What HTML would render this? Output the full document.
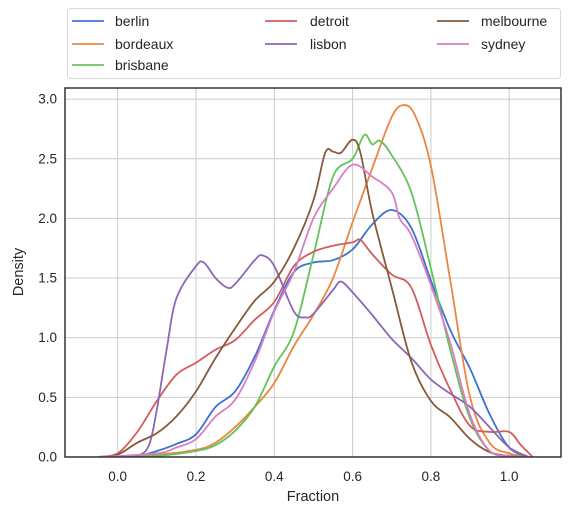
<!DOCTYPE html>
<html><head><meta charset="utf-8"><style>
body{margin:0;background:#fff;font-family:"Liberation Sans",sans-serif;}
</style></head><body>
<svg id="c" width="577" height="515" xmlns="http://www.w3.org/2000/svg" font-family="Liberation Sans, sans-serif"></svg>
<script>
const seriesNames=["berlin","bordeaux","brisbane","detroit","lisbon","melbourne","sydney"];
const seriesColors=["#3d72d0","#ee8540","#62c45a","#d45c5c","#8c67b6","#865a3a","#da7dc5"];
const berlinX=[-0.05,0.05,0.1,0.15,0.2,0.25,0.3,0.35,0.4,0.45,0.5,0.55,0.6,0.65,0.7,0.75,0.8,0.85,0.9,0.95,1.0,1.05];
const berlinY=[0,0.01,0.05,0.11,0.19,0.42,0.55,0.84,1.23,1.55,1.63,1.65,1.74,1.95,2.07,1.92,1.48,1.06,0.74,0.36,0.08,0];
const bordeauxX=[-0.05,0.1,0.2,0.25,0.3,0.35,0.4,0.45,0.5,0.55,0.6,0.65,0.7,0.73,0.76,0.8,0.85,0.9,0.95,1.0,1.05];
const bordeauxY=[0,0.02,0.06,0.12,0.25,0.42,0.62,0.93,1.19,1.5,1.97,2.42,2.85,2.95,2.86,2.44,1.47,0.5,0.12,0.03,0];
const brisbaneX=[-0.05,0.1,0.2,0.25,0.3,0.35,0.4,0.45,0.5,0.55,0.6,0.63,0.65,0.67,0.7,0.75,0.8,0.85,0.9,0.95,1.0,1.05];
const brisbaneY=[0,0.01,0.05,0.1,0.22,0.42,0.76,1.05,1.69,2.35,2.5,2.7,2.62,2.65,2.53,2.22,1.58,0.89,0.32,0.05,0.01,0];
const detroitX=[-0.05,0.0,0.05,0.1,0.15,0.2,0.25,0.3,0.35,0.4,0.45,0.5,0.55,0.6,0.62,0.65,0.7,0.75,0.8,0.85,0.9,0.95,1.0,1.03,1.06];
const detroitY=[0,0.03,0.21,0.47,0.69,0.79,0.9,0.98,1.15,1.3,1.6,1.72,1.77,1.8,1.82,1.7,1.53,1.42,0.94,0.56,0.26,0.21,0.21,0.1,0];
const lisbonX=[0.0,0.05,0.08,0.1,0.125,0.15,0.2,0.22,0.25,0.28,0.3,0.35,0.37,0.4,0.45,0.48,0.5,0.55,0.57,0.6,0.65,0.7,0.75,0.8,0.85,0.9,0.95,1.0,1.05];
const lisbonY=[0,0.01,0.1,0.4,0.9,1.33,1.6,1.63,1.5,1.42,1.45,1.65,1.69,1.6,1.22,1.17,1.2,1.4,1.47,1.38,1.19,0.99,0.83,0.65,0.53,0.42,0.25,0.08,0];
const melbourneX=[-0.05,0.0,0.05,0.1,0.15,0.2,0.25,0.3,0.35,0.4,0.45,0.5,0.53,0.55,0.57,0.6,0.62,0.65,0.7,0.75,0.8,0.85,0.9,0.95,1.0,1.05];
const melbourneY=[0,0.02,0.12,0.2,0.34,0.55,0.83,1.08,1.31,1.47,1.75,2.15,2.55,2.56,2.55,2.66,2.55,2.05,1.42,0.8,0.47,0.33,0.15,0.04,0.01,0];
const sydneyX=[-0.05,0.1,0.15,0.2,0.25,0.3,0.35,0.4,0.45,0.5,0.55,0.6,0.65,0.7,0.72,0.75,0.8,0.85,0.9,0.95,1.0,1.05];
const sydneyY=[0,0.03,0.08,0.15,0.34,0.48,0.8,1.22,1.55,2.0,2.25,2.45,2.35,2.22,2.0,1.86,1.44,0.95,0.35,0.05,0.01,0];
const xTicks=[0.0,0.2,0.4,0.6,0.8,1.0];
const xTickLabels=["0.0","0.2","0.4","0.6","0.8","1.0"];
const yTicks=[0,0.5,1.0,1.5,2.0,2.5,3.0];
const yTickLabels=["0.0","0.5","1.0","1.5","2.0","2.5","3.0"];

const allX=[berlinX,bordeauxX,brisbaneX,detroitX,lisbonX,melbourneX,sydneyX];
const allY=[berlinY,bordeauxY,brisbaneY,detroitY,lisbonY,melbourneY,sydneyY];
const L=65,R=561,T=88,B=457;
const sx=v=>117.7+v*391.5;
const sy=v=>457-v*119.3;
const svg=document.getElementById('c');
const NS="http://www.w3.org/2000/svg";
function mk(tag,attrs){const e=document.createElementNS(NS,tag);for(const k in attrs)e.setAttribute(k,attrs[k]);svg.appendChild(e);return e;}
xTicks.forEach((t,i)=>{
 const g=mk('line',{x1:sx(t),x2:sx(t),y1:T,y2:B,stroke:'#cccccc','stroke-width':1});
 
 
 const tx=mk('text',{x:sx(t),y:481,'text-anchor':'middle','font-size':13.5,fill:'#262626'});
 tx.textContent=xTickLabels[i];
 
 
});
yTicks.forEach((t,i)=>{
 const g=mk('line',{x1:L,x2:R,y1:sy(t),y2:sy(t),stroke:'#cccccc','stroke-width':1});
 
 
 const tx=mk('text',{x:57,y:sy(t)+4.5,'text-anchor':'end','font-size':13.5,fill:'#262626'});
 tx.textContent=yTickLabels[i];
 
 
});
function pathFor(xs,ys){
 const p=xs.map((x,i)=>[sx(x),sy(ys[i])]);
 let d='M'+p[0][0].toFixed(1)+','+p[0][1].toFixed(1);
 for(let i=0;i<p.length-1;i++){
  const p0=p[Math.max(0,i-1)],p1=p[i],p2=p[i+1],p3=p[Math.min(p.length-1,i+2)];
  let c1y=p1[1]+(p2[1]-p0[1])/6,c2y=p2[1]-(p3[1]-p1[1])/6;
  c1y=Math.min(c1y,B);c2y=Math.min(c2y,B);
  d+=' C'+(p1[0]+(p2[0]-p0[0])/6).toFixed(1)+','+c1y.toFixed(1)+' '+(p2[0]-(p3[0]-p1[0])/6).toFixed(1)+','+c2y.toFixed(1)+' '+p2[0].toFixed(1)+','+p2[1].toFixed(1);
 }
 return d;
}
const clip=mk('clipPath',{id:'pc'});
const cr=document.createElementNS(NS,'rect');cr.setAttribute('x',L);cr.setAttribute('y',T);cr.setAttribute('width',R-L);cr.setAttribute('height',B-T);clip.appendChild(cr);
seriesNames.forEach((n,i)=>{
 const e=mk('path',{d:pathFor(allX[i],allY[i]),fill:'none',stroke:seriesColors[i],'stroke-width':1.8,'clip-path':'url(#pc)'});
 
 
});
const fr=mk('rect',{x:L,y:T,width:R-L,height:B-T,fill:'none',stroke:'#333','stroke-width':1.5});


const xl=mk('text',{x:313,y:501,'text-anchor':'middle','font-size':14.5,fill:'#262626'});
xl.textContent='Fraction';


const yl=mk('text',{x:0,y:0,'text-anchor':'middle','font-size':14.5,fill:'#262626',transform:'translate(23,272) rotate(-90)'});
yl.textContent='Density';


const lb=mk('rect',{x:67.5,y:8.5,width:493,height:70,rx:3,fill:'#fff',stroke:'#d9d9d9'});


const colX=[72,265,437],textX=[115,310,481],rowY=[21,44,65];
const order=[[0,0],[0,1],[0,2],[1,0],[1,1],[2,0],[2,1]];
seriesNames.forEach((n,i)=>{
 const [c,r]=order[i];
 const ln=mk('line',{x1:colX[c],x2:colX[c]+32,y1:rowY[r],y2:rowY[r],stroke:seriesColors[i],'stroke-width':1.8});
 
 
 const t=mk('text',{x:textX[c],y:rowY[r]+5,'font-size':14,fill:'#262626'});
 t.textContent=n;
 
 
});
</script>
</body></html>
